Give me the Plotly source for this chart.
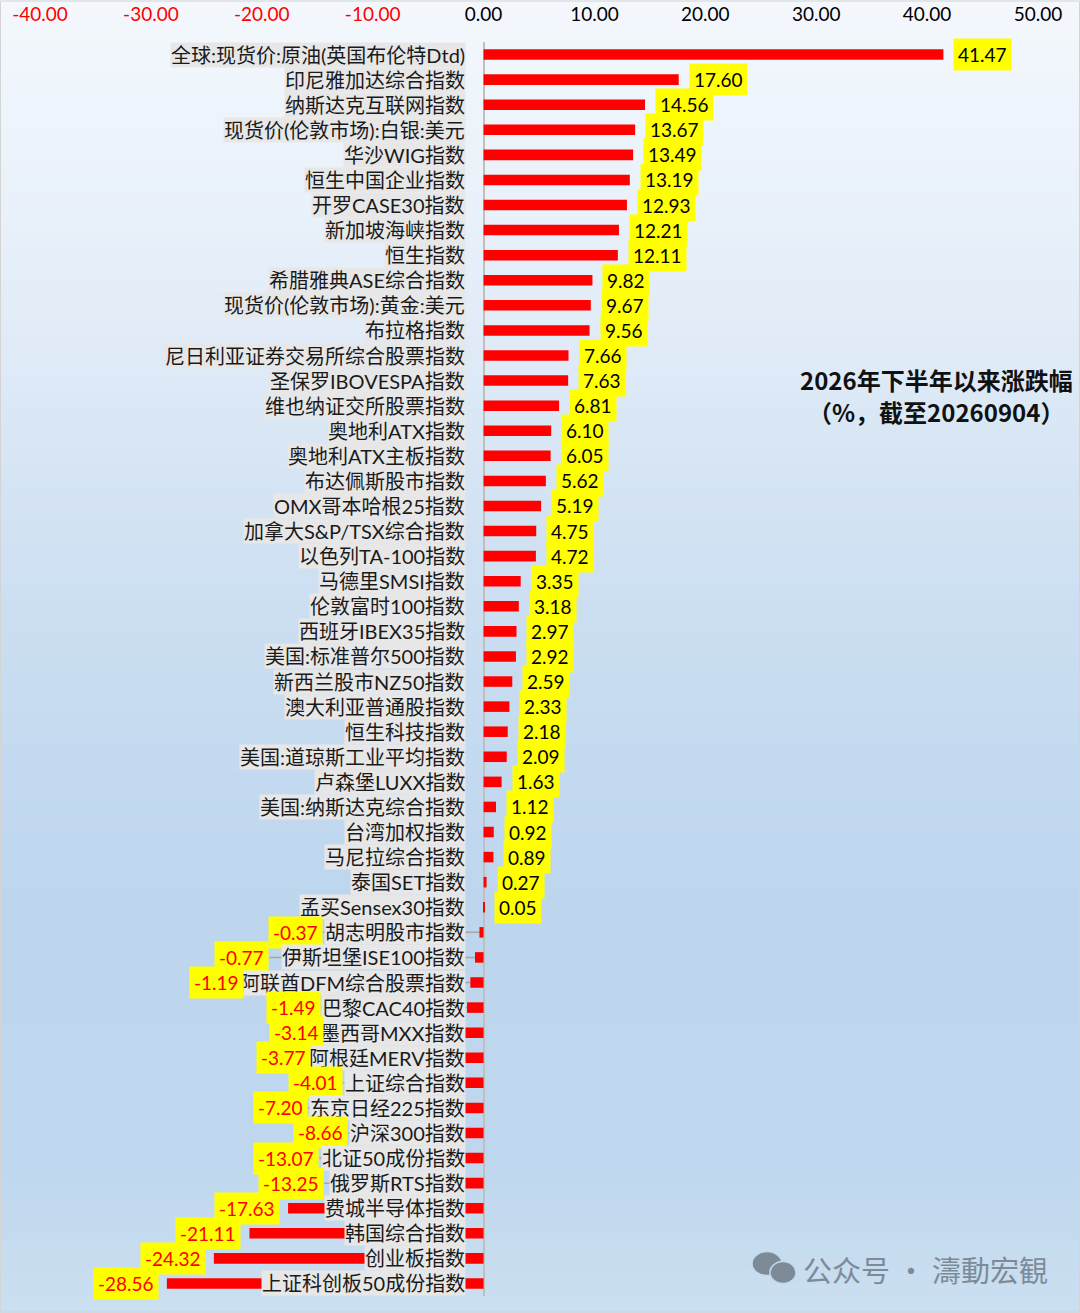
import plotly.graph_objects as go

categories = [
    "全球:现货价:原油(英国布伦特Dtd)", "印尼雅加达综合指数", "纳斯达克互联网指数", "现货价(伦敦市场):白银:美元",
    "华沙WIG指数", "恒生中国企业指数", "开罗CASE30指数", "新加坡海峡指数", "恒生指数",
    "希腊雅典ASE综合指数", "现货价(伦敦市场):黄金:美元", "布拉格指数", "尼日利亚证券交易所综合股票指数",
    "圣保罗IBOVESPA指数", "维也纳证交所股票指数", "奥地利ATX指数", "奥地利ATX主板指数", "布达佩斯股市指数",
    "OMX哥本哈根25指数", "加拿大S&P/TSX综合指数", "以色列TA-100指数", "马德里SMSI指数", "伦敦富时100指数",
    "西班牙IBEX35指数", "美国:标准普尔500指数", "新西兰股市NZ50指数", "澳大利亚普通股指数", "恒生科技指数",
    "美国:道琼斯工业平均指数", "卢森堡LUXX指数", "美国:纳斯达克综合指数", "台湾加权指数", "马尼拉综合指数",
    "泰国SET指数", "孟买Sensex30指数", "胡志明股市指数", "伊斯坦堡ISE100指数", "阿联酋DFM综合股票指数",
    "巴黎CAC40指数", "墨西哥MXX指数", "阿根廷MERV指数", "上证综合指数", "东京日经225指数", "沪深300指数",
    "北证50成份指数", "俄罗斯RTS指数", "费城半导体指数", "韩国综合指数", "创业板指数", "上证科创板50成份指数",
]
values = [
    41.47, 17.60, 14.56, 13.67, 13.49, 13.19, 12.93, 12.21, 12.11, 9.82, 9.67, 9.56, 7.66, 7.63, 6.81,
    6.10, 6.05, 5.62, 5.19, 4.75, 4.72, 3.35, 3.18, 2.97, 2.92, 2.59, 2.33, 2.18, 2.09, 1.63, 1.12, 0.92,
    0.89, 0.27, 0.05, -0.37, -0.77, -1.19, -1.49, -3.14, -3.77, -4.01, -7.20, -8.66, -13.07, -13.25,
    -17.63, -21.11, -24.32, -28.56,
]
tick_vals = [-40, -30, -20, -10, 0, 10, 20, 30, 40, 50]
title_lines = ["2026年下半年以来涨跌幅", "（%，截至20260904）"]
watermark = "公众号 · 濤動宏観"

W, H = 1080, 1313
ML, MR, MT, MB = 40, 42, 41.5, 16.5
PW, PH = W - ML - MR, H - MT - MB
XMIN, XMAX = -40, 50
SCALE = PW / (XMAX - XMIN)
NCAT = len(categories)

FONT = "Lato, 'Noto Sans CJK SC', sans-serif"
CJK = "'Noto Sans CJK SC', Lato, sans-serif"
CAT_SIZE = 20
VAL_SIZE = 19


def px2paper(px, py):
    return (px - ML) / PW, (H - MB - py) / PH


def text_width(s, size):
    w = 0.0
    for ch in s:
        if ord(ch) > 0x2E80:
            w += 1.0
        elif ch.isdigit():
            w += 0.58
        elif ch.isupper():
            w += 0.64
        elif ch.islower():
            w += 0.5
        elif ch in ".:":
            w += 0.24
        elif ch in "()/-":
            w += 0.34
        elif ch == "&":
            w += 0.7
        else:
            w += 0.3
    return w * size


fig = go.Figure()
fig.add_trace(go.Bar(
    x=values, y=categories, orientation="h",
    marker=dict(color="#ff0000", line=dict(width=0)),
    hoverinfo="skip",
))

annotations = []
shapes = []

# background gradient
stops = [(0, (244, 248, 253)), (0.2, (230, 239, 249)), (0.45, (205, 223, 242)),
         (0.68, (189, 214, 238)), (0.88, (190, 215, 238)), (1.0, (203, 223, 240))]


def grad(t):
    for i in range(len(stops) - 1):
        a, ca = stops[i]
        b, cb = stops[i + 1]
        if a <= t <= b:
            f = (t - a) / (b - a)
            return tuple(round(ca[k] + (cb[k] - ca[k]) * f) for k in range(3))
    return stops[-1][1]


N = 90
for i in range(N):
    y0p, y1p = H * i / N, H * (i + 1) / N + 1
    c = grad((i + 0.5) / N)
    x0, y0 = px2paper(0, y0p)
    x1, y1 = px2paper(W, y1p)
    shapes.append(dict(type="rect", xref="paper", yref="paper", x0=x0, x1=x1, y0=y1, y1=y0,
                       fillcolor="rgb(%d,%d,%d)" % c, line=dict(width=0), layer="below"))

# border
bx0, by0 = px2paper(0.5, 0.5)
bx1, by1 = px2paper(W - 0.5, H - 0.5)
shapes.append(dict(type="rect", xref="paper", yref="paper", x0=bx0, x1=bx1, y0=by1, y1=by0,
                   fillcolor="rgba(0,0,0,0)", line=dict(color="#d4d4d4", width=1), layer="below"))

CAT_GAP = 18
for cat, v in zip(categories, values):
    cw = text_width(cat, CAT_SIZE) + 2
    annotations.append(dict(
        x=0, y=cat, xref="x", yref="y", text=cat, showarrow=False,
        xanchor="right", yanchor="middle", xshift=-CAT_GAP,
        bgcolor="#e7e7e7", borderpad=0,
        font=dict(family=FONT, size=CAT_SIZE, color="#1a1a1a"),
    ))
    txt = "%.2f" % v
    if v >= 0:
        annotations.append(dict(
            x=v, y=cat, xref="x", yref="y", text=txt, showarrow=False,
            xanchor="left", yanchor="middle", xshift=10,
            bgcolor="#ffff00", borderpad=4,
            font=dict(family=FONT, size=VAL_SIZE, color="#000000"),
        ))
    else:
        bar_off = -v * SCALE + 8
        lab_off = CAT_GAP + cw + 1
        off = max(bar_off, lab_off)
        annotations.append(dict(
            x=0, y=cat, xref="x", yref="y", text=txt, showarrow=False,
            xanchor="right", yanchor="middle", xshift=-off,
            bgcolor="#ffff00", borderpad=4,
            font=dict(family=FONT, size=VAL_SIZE, color="#ff0000"),
        ))
        if lab_off > bar_off:
            shapes.append(dict(type="line", xref="x", yref="y",
                               x0=-lab_off / SCALE, x1=0, y0=cat, y1=cat,
                               line=dict(color="#a6a6a6", width=1.5), layer="below"))

# title
tx, ty1 = px2paper(936, 379)
_, ty2 = px2paper(936, 411)
for line, ty in zip(title_lines, [ty1, ty2]):
    annotations.append(dict(
        x=tx, y=ty, xref="paper", yref="paper", text="<b>%s</b>" % line, showarrow=False,
        xanchor="center", yanchor="middle",
        font=dict(family=CJK, size=24, color="#111111"),
    ))

# watermark
wx, wy = px2paper(801, 1269)
annotations.append(dict(
    x=wx, y=wy, xref="paper", yref="paper", text=watermark, showarrow=False,
    xanchor="left", yanchor="middle",
    font=dict(family=CJK, size=29, color="#7d8b99"),
))
# wechat icon (two bubbles)
for (cx, cy, rx, ry) in [(767, 1264, 15, 12), (783, 1273, 13, 11)]:
    ex0, ey0 = px2paper(cx - rx, cy - ry)
    ex1, ey1 = px2paper(cx + rx, cy + ry)
    shapes.append(dict(type="circle", xref="paper", yref="paper", x0=ex0, x1=ex1, y0=ey1, y1=ey0,
                       fillcolor="#7d8b99", line=dict(color="#c4d9ee", width=1.5)))

ticktext = []
for t in tick_vals:
    s = "%.2f" % t
    ticktext.append('<span style="color:#ff0000">%s</span>' % s if t < 0 else s)

fig.update_layout(
    width=W, height=H,
    margin=dict(l=ML, r=MR, t=MT, b=MB, pad=0, autoexpand=False),
    paper_bgcolor="#eef3fa",
    plot_bgcolor="rgba(0,0,0,0)",
    showlegend=False,
    bargap=0.58,
    xaxis=dict(
        side="top", range=[XMIN, XMAX], tickvals=tick_vals, ticktext=ticktext,
        showgrid=False, zeroline=True, zerolinecolor="#bfbfbf", zerolinewidth=1.5,
        showline=False, ticks="", ticklabelstandoff=16, automargin=False,
        tickfont=dict(family=FONT, size=19, color="#000000"),
        fixedrange=True,
    ),
    yaxis=dict(
        categoryorder="array", categoryarray=categories,
        range=[NCAT - 0.5, -0.5], autorange=False,
        showticklabels=False, showgrid=False, zeroline=False, showline=False, ticks="",
        automargin=False, fixedrange=True,
    ),
    annotations=annotations,
    shapes=shapes,
)

fig.write_html("out.html", config={"displayModeBar": False},
               post_script="document.body.style.margin='0';")
